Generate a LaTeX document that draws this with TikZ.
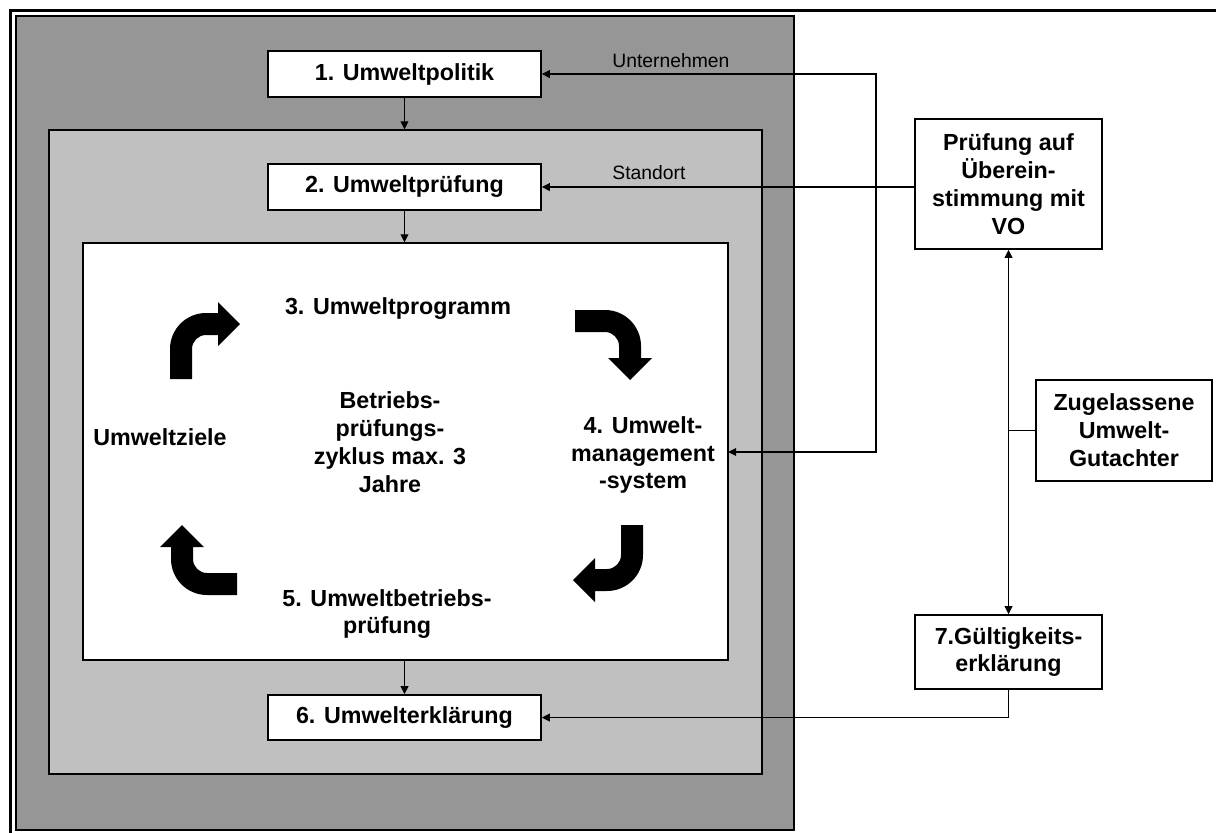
\documentclass[tikz,border=0pt]{standalone}
\usepackage{fontspec}
\setmainfont{Liberation Sans}
\usetikzlibrary{arrows.meta}
\definecolor{companygray}{RGB}{150,150,150}
\definecolor{sitegray}{RGB}{192,192,192}
% bent block arrow of the audit cycle (local pixel units, y pointing down)
\newcommand{\cycarrowpath}{%
  \fill[black] (0,0) -- (30,0) .. controls (49.9,0) and (66,16.1) .. (66,36)
    -- (66,48) -- (77,48) -- (55,70) -- (33,48) -- (44,48) -- (44,36)
    .. controls (44,28.3) and (37.7,22) .. (30,22) -- (0,22) -- cycle;}
\begin{document}
\begin{tikzpicture}[x=0.02cm,y=-0.02cm,
  area/.style={draw=black, line width=0.8pt, inner sep=0pt},
  stepbox/.style={draw=black, fill=white, line width=0.85pt, inner sep=0pt,
    align=center, font=\bfseries\fontsize{13.25}{15.9}\selectfont},
  bold/.style={inner sep=0pt, align=center, font=\bfseries\fontsize{13.25}{15.9}\selectfont},
  small/.style={inner sep=0pt, font=\fontsize{11}{13}\selectfont},
  conn/.style={line width=0.7pt, -{Triangle[length=4.6pt,width=4.4pt]}},
  conn2/.style={line width=0.7pt, {Triangle[length=4.6pt,width=4.4pt]}-{Triangle[length=4.6pt,width=4.4pt]}},
  plain/.style={line width=0.7pt}]
\useasboundingbox (0,0) rectangle (1216,832);
\fill[white] (0,0) rectangle (1216,832);

% outer page frame
\draw[line width=1.4pt] (10.5,840) -- (10.5,10.5) -- (1230,10.5);

% nested areas: company, site, audit cycle
\node[area, fill=companygray, minimum width=15.56cm, minimum height=16.28cm] (company) at (405,423) {};
\node[area, fill=sitegray, minimum width=14.26cm, minimum height=12.88cm] (site) at (405.5,452) {};
\node[area, fill=white, minimum width=12.9cm, minimum height=8.34cm] (inner) at (405.5,451.5) {};

% step boxes
\node[stepbox, minimum width=5.46cm, minimum height=0.92cm] (b1) at (404.5,74) {1. Umweltpolitik};
\node[stepbox, minimum width=5.46cm, minimum height=0.92cm] (b2) at (404.5,187) {2. Umweltprüfung};
\node[stepbox, minimum width=5.46cm, minimum height=0.9cm] (b6) at (404.5,717.5) {6. Umwelterklärung};

% labels of the cycle
\node[bold] (b3) at (398,309) {3. Umweltprogramm};
\node[bold] (mid) at (390,442) {Betriebs-\\prüfungs-\\zyklus max. 3\\Jahre};
\node[bold] (goals) at (160,437) {Umweltziele};
\node[bold] (ums) at (643,455) {4. Umwelt-\\management\\-system};
\node[bold] (b5) at (387,614) {5. Umweltbetriebs-\\prüfung};

% block arrows of the cycle
\begin{scope}[shift={(575,310)}]
  \cycarrowpath
\end{scope}
\begin{scope}[shift={(643,525)}, rotate=-90]
  \cycarrowpath
\end{scope}
\begin{scope}[shift={(237,595)}, rotate=180]
  \cycarrowpath
\end{scope}
\begin{scope}[shift={(170,379)}, rotate=90]
  \cycarrowpath
\end{scope}

% external boxes
\node[stepbox, minimum width=3.74cm, minimum height=2.6cm] (pr) at (1008.5,184)
  {Prüfung auf\\Überein-\\stimmung mit\\VO};
\node[stepbox, minimum width=3.52cm, minimum height=2.02cm] (zg) at (1124,430.5)
  {Zugelassene\\Umwelt-\\Gutachter};
\node[stepbox, minimum width=3.74cm, minimum height=1.48cm] (gk) at (1008.5,652)
  {7.Gültigkeits-\\erklärung};

% level labels
\node[small, anchor=west] (lu) at (612,61) {Unternehmen};
\node[small, anchor=west] (ls) at (612,173) {Standort};

% connectors inside the areas
\draw[conn] (b1.south) -- (b1.south |- site.north);
\draw[conn] (b2.south) -- (b2.south |- inner.north);
\draw[conn] (b6.north |- inner.south) -- (b6.north);

% connectors from the verification
\coordinate (jn) at (876,187);
\coordinate (umsin) at (728,452);
\draw[conn] (pr.west |- b2.east) -- (b2.east);
\draw[conn] (jn) |- (b1.east);
\draw[conn] (jn) |- (umsin);
\draw[conn2] (pr.south) -- (gk.north);
\draw[plain] (zg.west) -- (zg.west -| pr.south);
\draw[conn] (gk.south) |- (b6.east);
\end{tikzpicture}
\end{document}
